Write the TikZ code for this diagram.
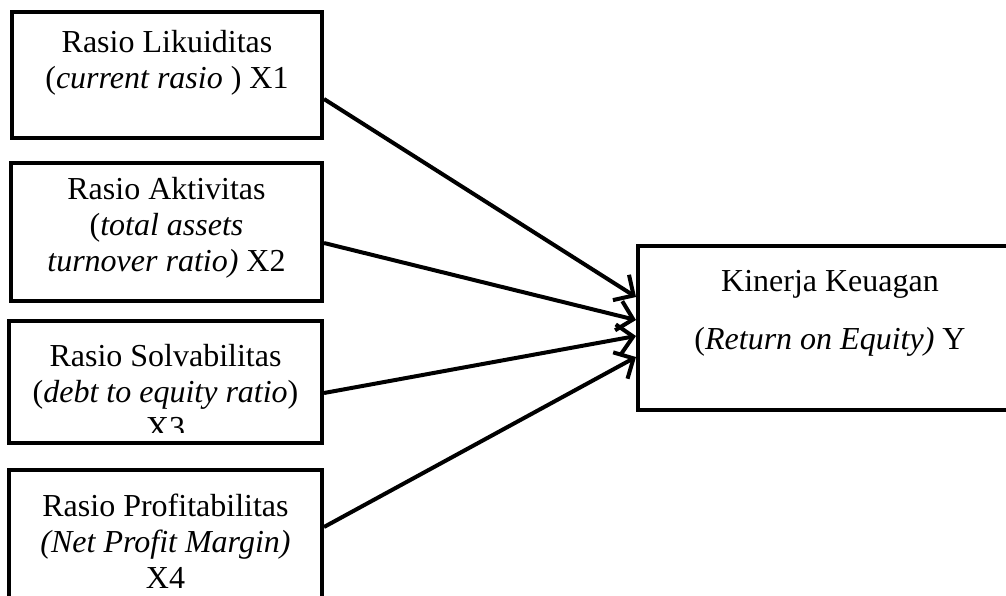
\documentclass[tikz,border=0pt]{standalone}
\usepackage{fontspec}
\setmainfont{Liberation Serif}
\usepackage{tikz}
\usetikzlibrary{arrows.meta, positioning}

\begin{document}
\begin{tikzpicture}[x=1pt, y=-1pt,
    box/.style={draw=black, line width=4pt, inner sep=0pt},
    lbl/.style={align=center, font=\fontsize{32}{36}\selectfont, inner sep=0pt},
    arr/.style={line width=4pt, -{Straight Barb[length=15pt, width=30pt]}}]

\useasboundingbox (0,0) rectangle (1006,595);
\clip (0,0) rectangle (1006,595);

    \node[box, minimum width=310pt, minimum height=126pt] (X1) at (167,75) {};
\node[lbl] (T1) at (167,63) {Rasio Likuiditas\\(\textit{current rasio} ) X1};

    \node[box, minimum width=311pt, minimum height=138pt] (X2) at (166.5,232) {};
\node[lbl] (T2) at (166.5,228) {Rasio Aktivitas\\(\textit{total assets}\\\textit{turnover ratio)} X2};

    \node[box, minimum width=313pt, minimum height=122pt] (X3) at (165.5,382) {};
\begin{scope}
\clip (9,321) rectangle (322,432);
\node[lbl] (T3) at (165.5,392) {Rasio Solvabilitas\\(\textit{debt to equity ratio})\\X3};
\end{scope}

    \node[box, minimum width=313pt, minimum height=140pt] (X4) at (165.5,540) {};
\node[lbl] (T4) at (165.5,541) {Rasio Profitabilitas\\\textit{(Net Profit Margin)}\\X4};

    \node[box, minimum width=372pt, minimum height=164pt] (Y) at (824,328) {};
\node[lbl] (TY) at (830,313) {Kinerja Keuagan\\[22pt](\textit{Return on Equity)} Y};

\draw[arr] ([yshift=-24pt]X1.east) -- ([yshift=31pt]Y.west);
\draw[arr] ([yshift=-11pt]X2.east) -- ([yshift=8pt]Y.west);
\draw[arr] ([yshift=-11pt]X3.east) -- ([yshift=-8pt]Y.west);
\draw[arr] ([yshift=13pt]X4.east) -- ([yshift=-29pt]Y.west);

\end{tikzpicture}
\end{document}
